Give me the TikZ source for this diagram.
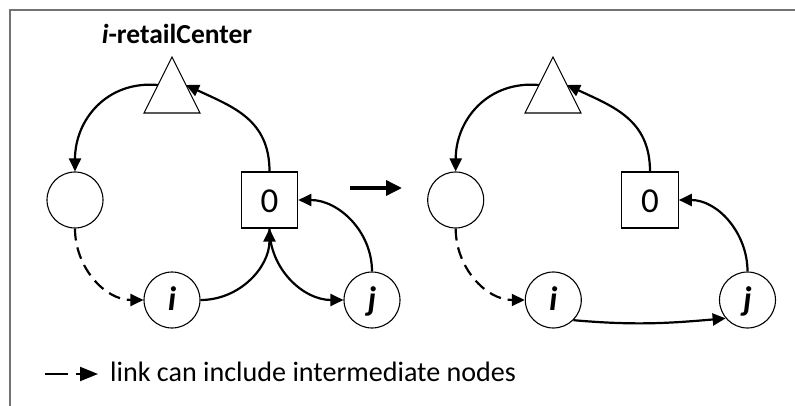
\documentclass[tikz,border=0pt]{standalone}
\usepackage{fontspec}
\setmainfont{Carlito}
\usetikzlibrary{arrows.meta}
\begin{document}
\begin{tikzpicture}[x=1pt,y=-1pt,
 conn/.style={line width=2.2pt,-{Triangle[length=13pt,width=12pt]}},
 dconn/.style={conn,dash pattern=on 12pt off 7pt},
 circ/.style={circle,draw,line width=1.1pt,minimum size=56pt,inner sep=0pt,text height=20pt,text depth=0pt,font=\fontsize{34}{34}\selectfont\bfseries\itshape},
 sqn/.style={rectangle,draw,line width=1.1pt,minimum width=56.5pt,minimum height=56pt,inner sep=0pt,text height=26pt,text depth=0pt,font=\fontsize{35}{35}\selectfont},
 tri/.style={draw,line width=1.1pt,fill=white},
 frame/.style={line width=2pt,draw=black!55}]
\useasboundingbox (0,0) rectangle (795,406);
\draw[frame] (10,440) -- (10,10) -- (840,10);
% title
\node[anchor=base,font=\fontsize{27.5}{27.5}\selectfont\bfseries,inner sep=0pt] (ttl) at (177,44) {\textit{i}-retailCenter};
% ---- left panel ----
\draw[tri] (172,57) -- (144,113) -- (200,113) -- cycle;
\coordinate (tAR) at (186,85);
\coordinate (tAL) at (158,85);
\node[circ] (lA) at (75,200) {};
\node[sqn] (zA) at (269.5,200) {0};
\node[circ] (iA) at (172,300) {i};
\node[circ] (jA) at (372,300) {j};
\draw[conn] (zA.north) to[out=90,in=-25,looseness=1.1] (tAR);
\draw[conn] (tAL) to[out=175,in=90,looseness=1.1] (lA.north);
\draw[dconn] (lA.south) to[out=-90,in=180] (iA.west);
\draw[conn] (iA.east) to[out=0,in=-90] (zA.south);
\draw[conn] (zA.south) to[out=-90,in=180] (jA.west);
\draw[conn] (jA.north) to[out=90,in=0] (zA.east);
% ---- transition arrow ----
\coordinate (pa1) at (350,188);
\coordinate (pa2) at (402,188);
\draw[line width=3.5pt,-{Triangle[length=16pt,width=15pt]}] (pa1) -- (pa2);
% ---- right panel ----
\draw[tri] (553,57) -- (525,113) -- (581,113) -- cycle;
\coordinate (tBR) at (567,85);
\coordinate (tBL) at (539,85);
\node[circ] (lB) at (455.7,200) {};
\node[sqn] (zB) at (650,200) {0};
\node[circ] (iB) at (553.3,300) {i};
\node[circ] (jB) at (747.5,300) {j};
\draw[conn] (zB.north) to[out=90,in=-25,looseness=1.1] (tBR);
\draw[conn] (tBL) to[out=175,in=90,looseness=1.1] (lB.north);
\draw[dconn] (lB.south) to[out=-90,in=180] (iB.west);
\draw[conn] (iB.-45) to[out=-5,in=185] (jB.-140);
\draw[conn] (jB.north) to[out=90,in=0] (zB.east);
% ---- legend ----
\coordinate (lg1) at (45,374);
\coordinate (lg2) at (68,374);
\coordinate (lg3) at (76,374);
\coordinate (lg4) at (98,374);
\draw[line width=2.2pt] (lg1) -- (lg2);
\draw[line width=2.2pt,-{Triangle[length=18pt,width=14pt]}] (lg3) -- (lg4);
\node[anchor=base west,font=\fontsize{28.1}{28.1}\selectfont,inner sep=0pt] (lgt) at (110,381) {link can include intermediate nodes};
\end{tikzpicture}
\end{document}
